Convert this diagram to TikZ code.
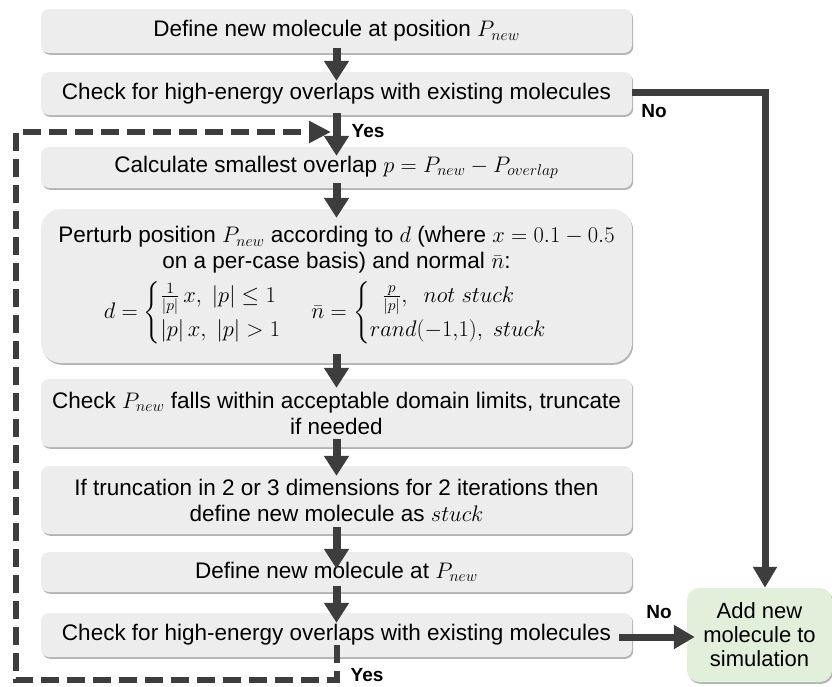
\RequirePackage{fix-cm}
\documentclass[tikz,border=0pt]{standalone}
\usepackage{amsmath}
\usepackage{fontspec}
\setmainfont{Liberation Sans}
\usetikzlibrary{arrows.meta,shadows}
\definecolor{boxfill}{HTML}{EDEDED}
\definecolor{greenfill}{HTML}{E2EFDA}
\definecolor{arrowgray}{HTML}{3D3D3D}
\definecolor{shadowgray}{HTML}{A0A0A0}
\begin{document}
\begin{tikzpicture}[x=1pt,y=-1pt,
  box/.style={fill=boxfill, rounded corners=8pt, minimum width=591pt, align=center,
    inner sep=0pt, font=\fontsize{22.5}{26}\selectfont,
    drop shadow={shadow xshift=1.2pt, shadow yshift=-1.8pt, fill=shadowgray, opacity=0.8}},
  greenbox/.style={box, fill=greenfill, minimum width=145pt, minimum height=94pt,
    rounded corners=12pt, font=\fontsize{22}{24}\selectfont},
  arr/.style={draw=arrowgray, line width=8pt, -{Triangle[width=24pt,length=20pt]}},
  noline/.style={draw=arrowgray, line width=7pt, -{Triangle[width=23pt,length=21pt]}},
  dashloop/.style={draw=arrowgray, line width=6pt, dash pattern=on 18pt off 8pt,
    -{Triangle[width=21pt,length=22pt]}},
  lbl/.style={font=\bfseries\fontsize{19}{20}\selectfont, inner sep=0pt}
]
\useasboundingbox (0,0) rectangle (832,686);

\node[box, minimum height=44pt] (B1) at (336.5,31) {Define new molecule at position $P_{new}$};
\node[box, minimum height=43pt] (B2) at (336.5,93.5) {Check for high-energy overlaps with existing molecules};
\node[box, minimum height=41pt] (B3) at (336.5,167.5) {Calculate smallest overlap $p=P_{new}-P_{overlap}$};
\node[box, minimum height=154pt, rounded corners=20pt] (B4) at (336.5,286)
  {Perturb position $P_{new}$ according to $d$ (where $x=0.1-0.5$\\
   on a per-case basis) and normal $\bar{n}$:\\[6pt]
   $d=\begin{cases}\frac{1}{|p|}\,x,\ |p|\le 1\\ |p|\,x,\ |p|>1\end{cases}\,
    \bar{n}=\begin{cases}\ \ \frac{p}{|p|},\ \ not\ stuck\\ rand(-1{,}1),\ stuck\end{cases}$};
\node[box, minimum height=68pt] (B5) at (336.5,413) {Check $P_{new}$ falls within acceptable domain limits, truncate\\ if needed};
\node[box, minimum height=68pt] (B6) at (336.5,500) {If truncation in 2 or 3 dimensions for 2 iterations then\\ define new molecule as $stuck$};
\node[box, minimum height=40pt] (B7) at (336.5,572) {Define new molecule at $P_{new}$};
\node[box, minimum height=44pt] (B8) at (336.5,635) {Check for high-energy overlaps with existing molecules};
\node[greenbox] (G) at (759.5,635) {Add new\\ molecule to\\ simulation};

\draw[arr] ([yshift=5pt]B1.south) -- ([yshift=-9pt]B2.north);
\draw[arr] ([yshift=2pt]B2.south) -- ([yshift=-9pt]B3.north);
\draw[arr] ([yshift=5pt]B3.south) -- ([yshift=-9pt]B4.north);
\draw[arr] ([yshift=9pt]B4.south) -- ([yshift=-9pt]B5.north);
\draw[arr] ([yshift=8pt]B5.south) -- ([yshift=-10pt]B6.north);
\draw[arr] ([yshift=7pt]B6.south) -- ([yshift=-17pt]B7.north);
\draw[arr] ([yshift=6pt]B7.south) -- ([yshift=-10pt]B8.north);

\draw[noline] ([yshift=1pt]B2.east) -| ([xshift=5.5pt]G.north);
\draw[noline] ([xshift=-13pt,yshift=-2pt]B8.east) -- ([xshift=8pt,yshift=-2pt]G.west);

\coordinate (L1) at (16,680);
\coordinate (L2) at (16,132);
\coordinate (LT) at (331,132);
\draw[dashloop] ([yshift=12pt]B8.south) |- (L1) -- (L2) -- (LT);

\node[lbl] (no1) at (654,111) {No};
\node[lbl] (no2) at (659,612) {No};
\node[lbl] (yes1) at (368,131) {Yes};
\node[lbl] (yes2) at (367,675) {Yes};
\end{tikzpicture}
\end{document}
